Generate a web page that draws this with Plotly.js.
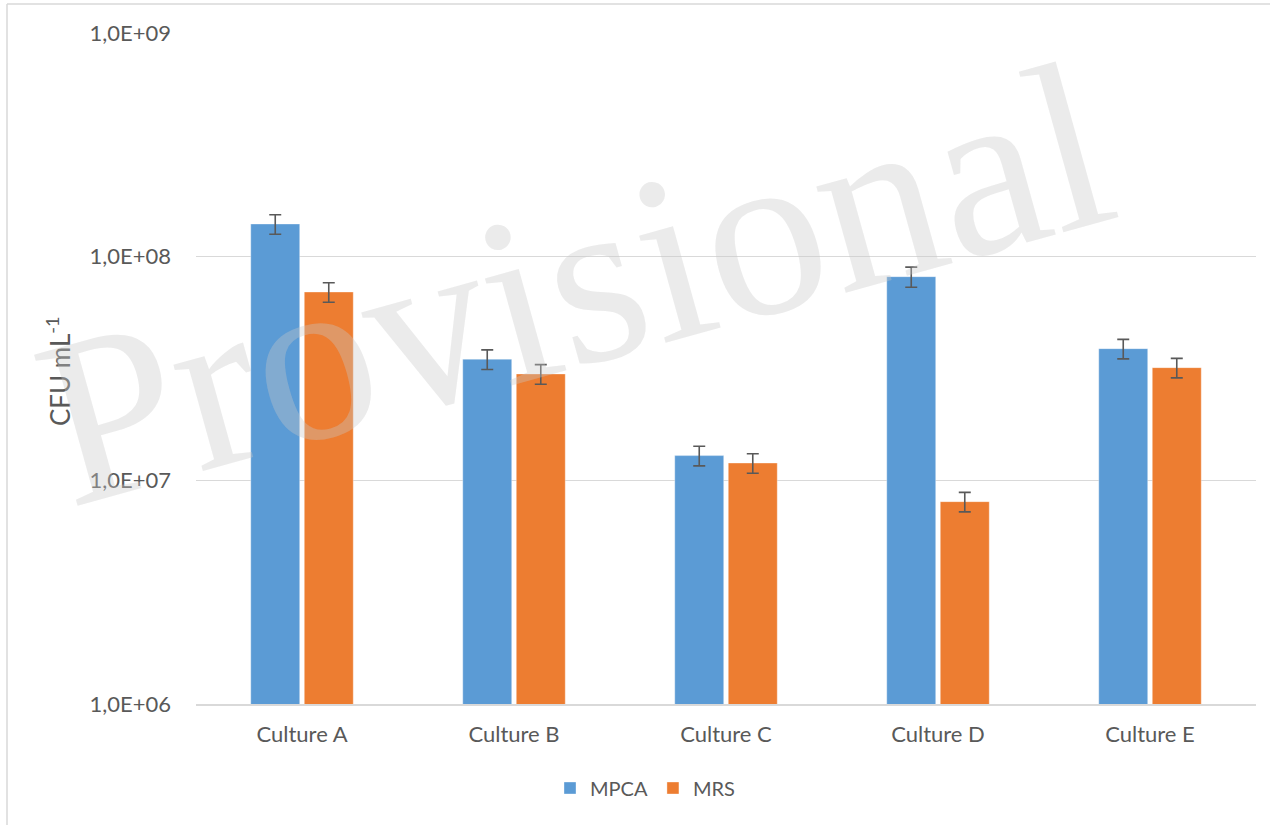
<!DOCTYPE html>
<html>
<head>
<meta charset="utf-8">
<script src="https://cdn.plot.ly/plotly-3.0.1.min.js"></script>
<style>html,body{margin:0;padding:0;background:#fff;}#chart{width:1270px;height:825px;}</style>
</head>
<body>
<div id="chart"></div>
<script>
const categories = ["Culture A", "Culture B", "Culture C", "Culture D", "Culture E"];
const mpca = [1.40e8, 3.48e7, 1.29e7, 8.14e7, 3.88e7];
const mpcaErr = [1.4e7, 3.5e6, 1.3e6, 8.4e6, 3.9e6];
const mrs = [6.95e7, 2.99e7, 1.195e7, 8.03e6, 3.19e7];
const mrsErr = [7.0e6, 3.0e6, 1.2e6, 8.0e5, 3.2e6];
const yTickVals = [1e6, 1e7, 1e8, 1e9];
const yTickText = ["1,0E+06", "1,0E+07", "1,0E+08", "1,0E+09"];

const font = {family: "Lato, 'Open Sans', sans-serif", size: 22, color: "#595959"};
const errStyle = (arr) => ({type: "data", array: arr, visible: true, color: "#595959", thickness: 1.6, width: 6});

const traces = [
  {type: "bar", name: "MPCA", x: categories, y: mpca, error_y: errStyle(mpcaErr),
   marker: {color: "#5B9BD5", line: {color: "rgba(255,255,255,0.35)", width: 1}}},
  {type: "bar", name: "MRS", x: categories, y: mrs, error_y: errStyle(mrsErr),
   marker: {color: "#ED7D31", line: {color: "rgba(255,255,255,0.35)", width: 1}}}
];

const L = 196, R = 14, T = 33, B = 121, W = 1270, H = 825;
const pw = W - L - R, ph = H - T - B;
const px = (x) => (x - L) / pw;
const py = (y) => (H - B - y) / ph;

const layout = {
  width: W, height: H,
  margin: {l: L, r: R, t: T, b: B, pad: 0},
  paper_bgcolor: "#fff", plot_bgcolor: "#fff",
  font: font,
  barmode: "group", bargap: 0.495, bargroupgap: 0.085,
  showlegend: true,
  legend: {orientation: "h", x: px(645), xanchor: "center", y: py(788), yanchor: "middle",
           font: {family: "Lato, sans-serif", size: 20, color: "#595959"}, bgcolor: "rgba(0,0,0,0)", traceorder: "normal"},
  xaxis: {type: "category", showgrid: false, ticks: "", showline: true, linecolor: "#D9D9D9", linewidth: 1.5,
          tickfont: font, ticklabelstandoff: 10, fixedrange: true},
  yaxis: {type: "log", range: [6, 9], tickvals: yTickVals, ticktext: yTickText, showgrid: true,
          gridcolor: "#D9D9D9", gridwidth: 1.5, ticks: "", showline: false, zeroline: false,
          tickfont: font, ticklabelstandoff: 24, fixedrange: true},
  annotations: [
    {text: "CFU mL<sup>-1</sup>", xref: "paper", yref: "paper", x: px(58), y: py(371),
     xanchor: "center", yanchor: "middle", textangle: -90, showarrow: false,
     font: {family: "Lato, sans-serif", size: 26, color: "#595959"}},
    {text: "Provisional", xref: "paper", yref: "paper", x: px(574), y: py(284),
     xanchor: "center", yanchor: "middle", textangle: -15.5, showarrow: false,
     font: {family: "'Liberation Serif', 'DejaVu Serif', serif", size: 240, color: "rgba(200,200,200,0.36)"}}
  ],
  shapes: [
    {type: "line", xref: "paper", yref: "paper", x0: px(7), x1: px(7), y0: py(4), y1: py(830),
     line: {color: "#D9D9D9", width: 1.5}},
    {type: "line", xref: "paper", yref: "paper", x0: px(7), x1: px(1275), y0: py(4), y1: py(4),
     line: {color: "#D9D9D9", width: 1.5}}
  ]
};

Plotly.newPlot("chart", traces, layout, {displayModeBar: false, staticPlot: true});
</script>
</body>
</html>
